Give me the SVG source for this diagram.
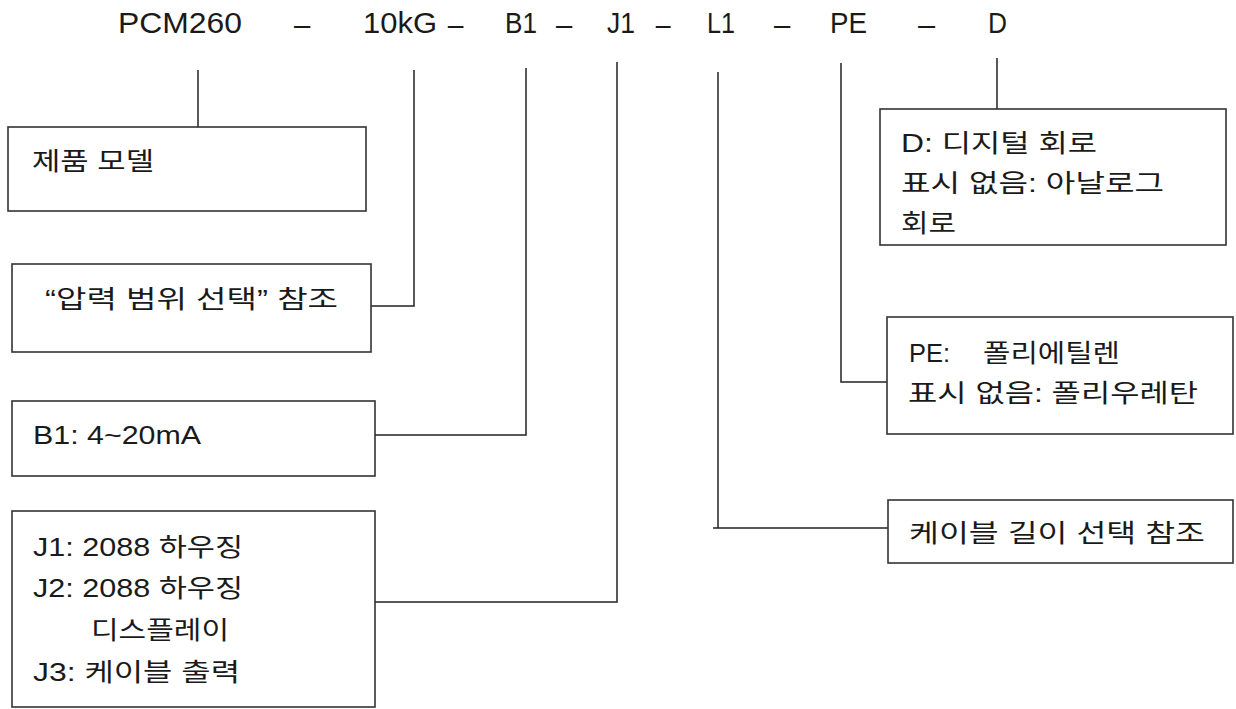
<svg xmlns="http://www.w3.org/2000/svg" width="1236" height="709" viewBox="0 0 1236 709">
<style>
.box{fill:#fff;stroke:#333;stroke-width:1.6}
.ln{fill:none;stroke:#222;stroke-width:1.5}
.t{font-family:"Liberation Sans","Noto Sans CJK KR",sans-serif;font-size:25px;fill:#1a1a1a}
.h{font-family:"Liberation Sans","Noto Sans CJK KR",sans-serif;font-size:29px;fill:#1a1a1a}
</style>
<rect width="1236" height="709" fill="#fff"/>
<g id="title">
<text class="h" x="118" y="33" textLength="124" lengthAdjust="spacingAndGlyphs">PCM260</text>
<text class="h" transform="translate(291,33) scale(2.3,0.8)">-</text>
<text class="h" x="363" y="33" textLength="74" lengthAdjust="spacingAndGlyphs">10kG</text>
<text class="h" transform="translate(445,33) scale(2.2,0.8)">-</text>
<text class="h" x="505" y="33" textLength="32" lengthAdjust="spacingAndGlyphs">B1</text>
<text class="h" transform="translate(553,33) scale(2.3,0.8)">-</text>
<text class="h" x="607" y="33" textLength="28" lengthAdjust="spacingAndGlyphs">J1</text>
<text class="h" transform="translate(653,33) scale(2.1,0.8)">-</text>
<text class="h" x="707" y="33" textLength="28" lengthAdjust="spacingAndGlyphs">L1</text>
<text class="h" transform="translate(771,33) scale(2.3,0.8)">-</text>
<text class="h" x="830" y="33" textLength="37" lengthAdjust="spacingAndGlyphs">PE</text>
<text class="h" transform="translate(915,33) scale(2.4,0.8)">-</text>
<text class="h" x="988" y="33" textLength="19" lengthAdjust="spacingAndGlyphs">D</text>
</g>
<g id="connectors">
<path class="ln" d="M198,70 V127"/>
<path class="ln" d="M414,70 V306 H371"/>
<path class="ln" d="M526,68 V435 H375"/>
<path class="ln" d="M617,62 V602 H375"/>
<path class="ln" d="M718,72 V528"/>
<path class="ln" d="M713,528 H888"/>
<path class="ln" d="M841,63 V382 H887"/>
<path class="ln" d="M997,58 V109"/>
</g>
<g id="model">
<rect class="box" x="8" y="127" width="358" height="84"/>
<text class="t" x="32" y="170" textLength="122" lengthAdjust="spacingAndGlyphs">제품 모델</text>
</g>
<g id="range">
<rect class="box" x="12" y="264" width="359" height="88"/>
<text class="t" x="45" y="308" textLength="293" lengthAdjust="spacingAndGlyphs">“압력 범위 선택” 참조</text>
</g>
<g id="b1">
<rect class="box" x="12" y="401" width="363" height="75"/>
<text class="t" x="33" y="444" textLength="168" lengthAdjust="spacingAndGlyphs">B1: 4~20mA</text>
</g>
<g id="j">
<rect class="box" x="12" y="511" width="363" height="196"/>
<text class="t" x="33" y="556" textLength="210" lengthAdjust="spacingAndGlyphs">J1: 2088 하우징</text>
<text class="t" x="33" y="597" textLength="210" lengthAdjust="spacingAndGlyphs">J2: 2088 하우징</text>
<text class="t" x="91" y="639" textLength="138" lengthAdjust="spacingAndGlyphs">디스플레이</text>
<text class="t" x="33" y="681" textLength="207" lengthAdjust="spacingAndGlyphs">J3: 케이블 출력</text>
</g>
<g id="d">
<rect class="box" x="880" y="109" width="346" height="136"/>
<text class="t" x="901" y="152" textLength="196" lengthAdjust="spacingAndGlyphs">D: 디지털 회로</text>
<text class="t" x="901" y="192" textLength="263" lengthAdjust="spacingAndGlyphs">표시 없음: 아날로그</text>
<text class="t" x="901" y="232" textLength="55" lengthAdjust="spacingAndGlyphs">회로</text>
</g>
<g id="pe">
<rect class="box" x="887" y="317" width="346" height="117"/>
<text class="t" x="909" y="362" textLength="41" lengthAdjust="spacingAndGlyphs">PE:</text>
<text class="t" x="983" y="362" textLength="137" lengthAdjust="spacingAndGlyphs">폴리에틸렌</text>
<text class="t" x="908" y="402" textLength="290" lengthAdjust="spacingAndGlyphs">표시 없음: 폴리우레탄</text>
</g>
<g id="cable">
<rect class="box" x="888" y="500" width="345" height="63"/>
<text class="t" x="909" y="542" textLength="296" lengthAdjust="spacingAndGlyphs">케이블 길이 선택 참조</text>
</g>
</svg>
